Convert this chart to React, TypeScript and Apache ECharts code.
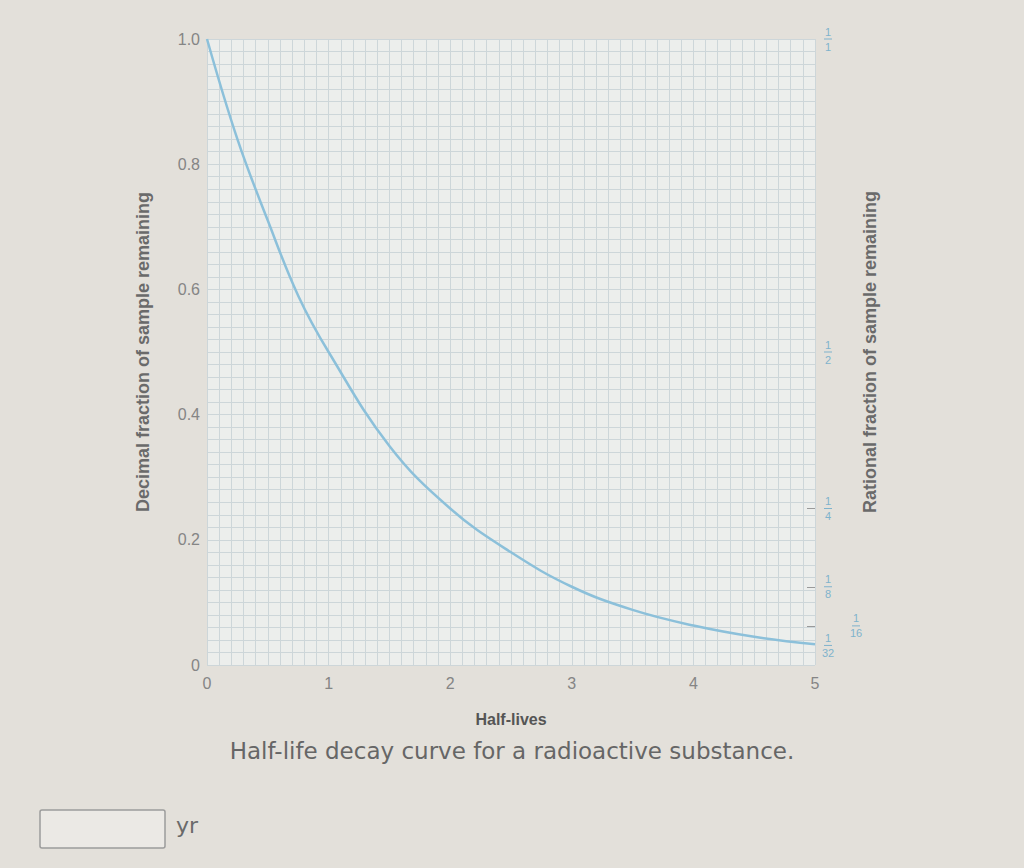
import React, { useEffect, useRef } from "react";
import * as echarts from "echarts";

const halfLives = [0, 0.25, 0.5, 0.75, 1, 1.5, 2, 2.5, 3, 3.5, 4, 4.5, 5];
const fractions = [1.0, 0.84, 0.71, 0.59, 0.5, 0.35, 0.25, 0.18, 0.125, 0.088, 0.063, 0.045, 0.033];
const xTicks = [0, 1, 2, 3, 4, 5];
const rationalValues = [1, 0.5, 0.25, 0.125, 0.03125];
const rationalLabels = ["1/1", "1/2", "1/4", "1/8", "1/32"];
const rationalOffsetValues = [0.0625];
const rationalOffsetLabels = ["1/16"];
const rationalTickValues = [0.25, 0.125, 0.0625];

export default function App() {
  const ref = useRef<HTMLDivElement>(null);
  useEffect(() => {
    if (!ref.current) return;
    const chart = echarts.init(ref.current, null, { renderer: "svg" });
    const gray = "#858585";
    const blue = "#8cc0da";
    const fracBlue = "#7fb3cc";
    const gridLine = "#cdd6d9";
    const font = "Liberation Sans, Arial, sans-serif";
    const rich = {
      n: { color: fracBlue, fontSize: 11, width: 16, align: "center", lineHeight: 12 },
      b: { fontSize: 1, width: 8, height: 1, lineHeight: 3, align: "center", backgroundColor: fracBlue },
    };
    const fracFormatter = (vals: number[], labels: string[]) => (v: number) => {
      let idx = 0;
      let best = 1e9;
      vals.forEach((r, i) => {
        if (Math.abs(r - v) < best) {
          best = Math.abs(r - v);
          idx = i;
        }
      });
      const [n, d] = labels[idx].split("/");
      return `{n|${n}}\n{b| }\n{n|${d}}`;
    };
    const hiddenRight = {
      type: "value",
      min: 0,
      max: 1,
      position: "right",
      axisLine: { show: false },
      splitLine: { show: false },
    };
    chart.setOption({
      animation: false,
      backgroundColor: "#e3e0da",
      textStyle: { fontFamily: font },
      grid: { left: 207, right: 209, top: 39, bottom: 203, show: true, backgroundColor: "#eceeec", borderWidth: 0 },
      xAxis: {
        type: "value",
        min: 0,
        max: 5,
        interval: 1,
        name: "Half-lives",
        nameLocation: "middle",
        nameGap: 46,
        nameTextStyle: { color: "#555", fontSize: 16, fontWeight: "bold" },
        axisLine: { show: false },
        axisTick: { show: false },
        axisLabel: { color: gray, fontSize: 16, margin: 10, customValues: xTicks },
        splitLine: { show: true, lineStyle: { color: gridLine, width: 1 } },
        minorTick: { show: false, splitNumber: 10 },
        minorSplitLine: { show: true, lineStyle: { color: gridLine, width: 1 } },
      },
      yAxis: [
        {
          type: "value",
          min: 0,
          max: 1,
          interval: 0.2,
          name: "Decimal fraction of sample remaining",
          nameLocation: "middle",
          nameGap: 55,
          nameRotate: 90,
          nameTextStyle: { color: "#6a6a6a", fontSize: 18, fontWeight: "bold" },
          axisLine: { show: false },
          axisTick: { show: false },
          axisLabel: {
            color: gray,
            fontSize: 16,
            margin: 7,
            formatter: (v: number) => (v === 0 ? "0" : v.toFixed(1)),
          },
          splitLine: { show: true, lineStyle: { color: gridLine, width: 1 } },
          minorTick: { show: false, splitNumber: 10 },
          minorSplitLine: { show: true, lineStyle: { color: gridLine, width: 1 } },
        },
        {
          ...hiddenRight,
          name: "Rational fraction of sample remaining",
          nameLocation: "middle",
          nameGap: 46,
          nameRotate: 90,
          nameTextStyle: { color: "#6a6a6a", fontSize: 18, fontWeight: "bold" },
          axisTick: {
            show: true,
            inside: true,
            length: 8,
            lineStyle: { color: "#9a9a9a", width: 1 },
            customValues: rationalTickValues,
          },
          axisLabel: {
            margin: 5,
            hideOverlap: false,
            customValues: rationalValues,
            formatter: fracFormatter(rationalValues, rationalLabels),
            rich,
          },
        },
        {
          ...hiddenRight,
          offset: 28,
          axisTick: { show: false },
          axisLabel: {
            margin: 5,
            hideOverlap: false,
            customValues: rationalOffsetValues,
            formatter: fracFormatter(rationalOffsetValues, rationalOffsetLabels),
            rich,
          },
        },
      ],
      series: [
        {
          type: "line",
          data: halfLives.map((h, i) => [h, fractions[i]]),
          smooth: 0.4,
          showSymbol: false,
          lineStyle: { color: blue, width: 2.5 },
        },
      ],
      graphic: [
        {
          type: "text",
          left: "center",
          top: 739,
          style: {
            text: "Half-life decay curve for a radioactive substance.",
            fill: "#666",
            fontSize: 23,
            fontFamily: "DejaVu Sans, Verdana, sans-serif",
          },
        },
        {
          type: "rect",
          shape: { x: 40, y: 810, width: 125, height: 38, r: 2 },
          style: { fill: "#ebe9e5", stroke: "#9c9c9c", lineWidth: 1.5 },
        },
        {
          type: "text",
          x: 176,
          y: 814,
          style: { text: "yr", fill: "#6a6a6a", fontSize: 22, fontFamily: "DejaVu Sans, sans-serif" },
        },
      ],
    });
    return () => chart.dispose();
  }, []);
  return <div ref={ref} style={{ position: "fixed", left: 0, top: 0, width: 1024, height: 868 }} />;
}
